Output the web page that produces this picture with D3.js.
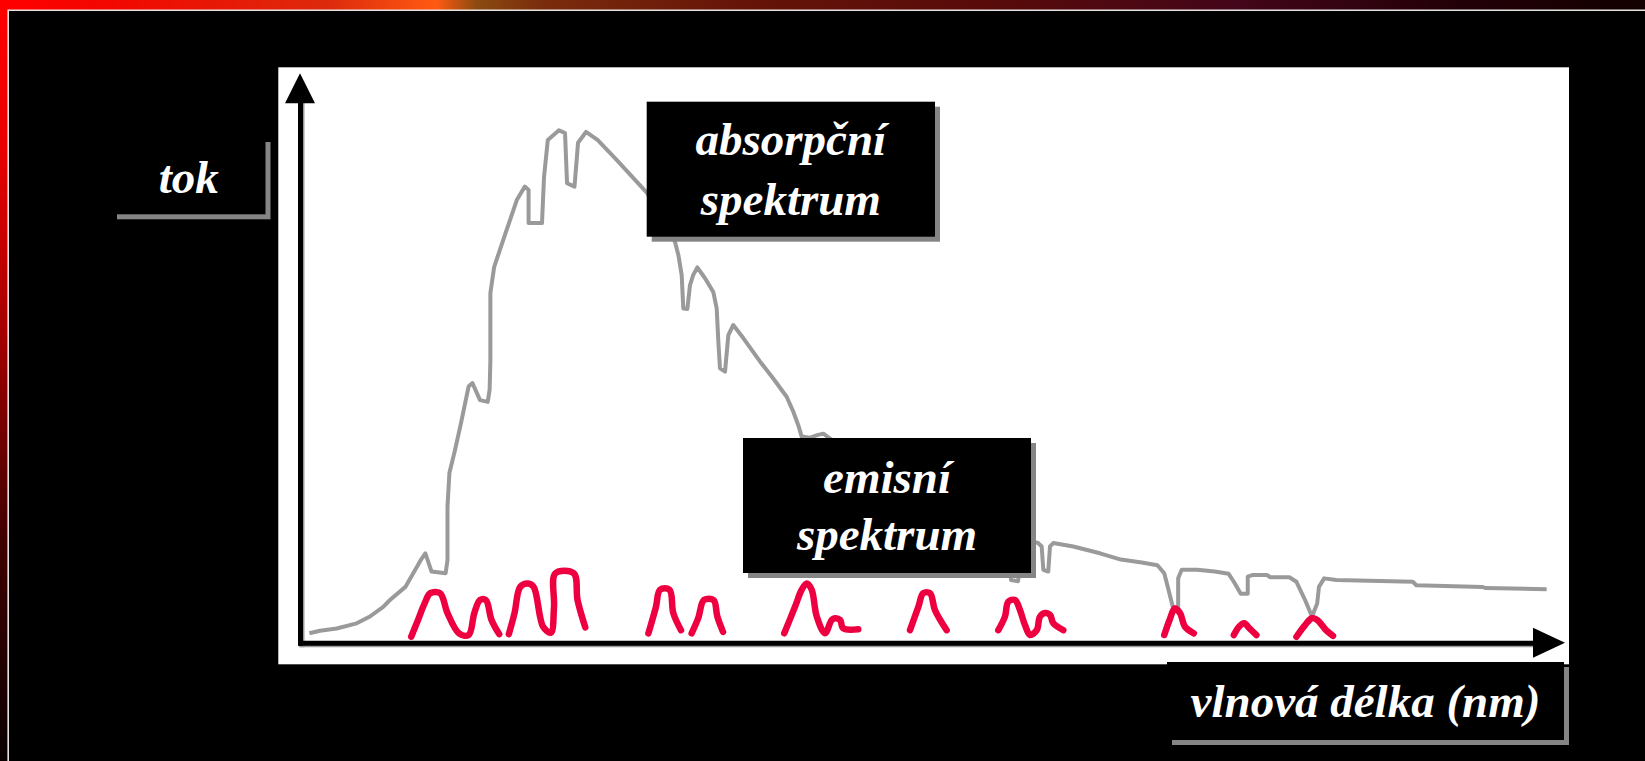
<!DOCTYPE html>
<html>
<head>
<meta charset="utf-8">
<script src="https://cdn.jsdelivr.net/npm/d3@7/dist/d3.min.js"></script>
<style>
  body { margin: 0; background: #000; overflow: hidden; }
  text { font-family: "Liberation Serif", "Times New Roman", serif; font-weight: bold; font-style: italic; fill: #fff; }
</style>
</head>
<body>
<div id="canvas"></div>
<script>
// absorption spectrum (grey line), x = position along wavelength axis (0-1000), y = flux (0-100)
const absX = [7.4, 15.8, 29, 44.8, 55.3, 65.8, 71.1, 83.3, 95.4, 99.1, 104, 115.1, 116.6, 116.6, 118.1, 122.5, 127.3, 133.3, 136.3, 142.3,
  148.4, 149.9, 150.5, 150.5, 153.5, 162.6, 171.5, 177.7, 180.7, 180.7, 191.3, 192.9, 195.9, 204.7, 209.5, 211.1, 217, 219.8, 226.1, 235.2,
  250.3, 274.3, 286.2, 296.4, 299.1, 301.7, 303, 306.2, 308.3, 310.9, 314.1, 320.2, 326.7, 329.4, 330.7, 332, 336, 338.6, 342.5, 350.4,
  363.6, 374.1, 384.7, 389.9, 393.9, 396.6, 403.2, 409.5, 413.7, 417.4, 442.7, 474.3, 513.8, 553.4, 558.1, 560.5, 562.1, 567.6, 570, 573.1,
  579.7, 583.6, 586.3, 587.6, 591.5, 592.9, 595.5, 611.3, 632.4, 648.9, 665.4, 677.8, 683.2, 686, 690.1, 694.2, 694.2, 697, 709.3, 723.1,
  734.1, 738.2, 743.7, 749.2, 749.2, 753.4, 764.3, 767, 782.1, 787.7, 794.5, 800, 804.1, 805.5, 809.6, 819.3, 879.7, 882.5, 934.6, 937.4, 985.5];
const absY = [1.65, 2.1, 2.5, 3.4, 4.6, 6.3, 7.5, 9.8, 14.5, 15.7, 12.5, 12.2, 14.5, 23.9, 29.8, 33.8, 38.6, 45, 45.6, 42.6,
  42.3, 44.4, 49.6, 61.4, 66, 72, 77.8, 80.1, 79.5, 73.7, 73.7, 81.8, 88.3, 90, 89.5, 80.7, 80.1, 87.8, 89.7, 88.3,
  84.8, 79, 74.2, 70.4, 68.1, 64.6, 58.7, 58.6, 62.8, 64.6, 65.9, 64, 61.6, 58.7, 52.9, 48.2, 47.6, 54, 55.8, 53.5,
  49.4, 46.4, 43.2, 40.6, 38.2, 36.2, 36, 36.5, 36.7, 36.1, 32.1, 26.8, 22.4, 18.9, 18, 14.5, 11, 10.8, 14.5, 17.7,
  17.7, 17.5, 16.9, 12.8, 12.5, 16.9, 17.5, 16.9, 15.7, 14.6, 14.1, 13.6, 12.2, 9.8, 6.2, 6.2, 11.3, 12.8, 12.8, 12.5,
  12.1, 10.7, 8.6, 8.6, 11.6, 11.9, 11.9, 11.5, 11.5, 10.7, 7.5, 4.6, 6.9, 9.8, 11.3, 11, 10.7, 10.1, 9.8, 9.6, 9.4];

// emission lines (red), null separates the humps
const emiX = [87.9, 93.3, 98.5, 103, 110.7, 116.6, 125.7, 133.3, 137.8, 142.3, 146.9, 151.4, 157.5, null,
  165.1, 169.6, 174.1, 180.2, 184.7, 192.2, 198.3, 200.8, 201.9, 216.4, 219.4, 225.5, null,
  275.4, 281.4, 284.6, 292.1, 295.1, 301.2, null,
  309.6, 314.8, 319.4, 326.9, 329.9, 334.4, null,
  382.8, 391.3, 396.6, 400.6, 404.5, 408.5, 415, 420.3, 422.9, 426.9, 429.5, 441.3, null,
  482.2, 488.8, 492.7, 498, 502, 511.2, null,
  552, 557.3, 559.9, 565.2, 569.2, 573.1, 577.1, 582.4, 585, 589, 592.9, 595.5, 603.4, null,
  683.2, 687.4, 691.5, 695.7, 699.6, 706.6, null,
  738.2, 742.3, 746.4, 750.6, 756.1, null,
  787.7, 794.5, 800, 804.1, 811.1, 816.6];
const emiY = [1.05, 4, 6.9, 8.7, 8.7, 5.2, 1.65, 1.35, 5.2, 7.5, 7.5, 4, 1.5, null,
  1.5, 5.2, 9.8, 10.4, 9.8, 2.8, 1.75, 6.3, 12.2, 12.2, 7.5, 2.7, null,
  1.65, 6.3, 9.3, 9.3, 5.2, 2.2, null,
  1.65, 4.3, 7.5, 7.5, 4.6, 1.9, null,
  1.65, 6.3, 9.3, 10.4, 9.3, 4.6, 1.65, 4, 4.3, 4, 2.5, 2.35, null,
  2.2, 6.3, 8.7, 8.7, 5.7, 2.2, null,
  2.2, 4.6, 7.2, 7.5, 5.7, 3.1, 1.35, 2.2, 4.6, 5.2, 4.9, 3.4, 2.2, null,
  1.35, 4, 6, 5.2, 2.8, 1.65, null,
  1.35, 2.8, 3.4, 2.5, 1.35, null,
  1.05, 3.1, 4.3, 4, 2.2, 1.2];

const labelTok = "tok";
const labelAbs = ["absorpční", "spektrum"];
const labelEmi = ["emisní", "spektrum"];
const labelX = "vlnová délka (nm)";

const width = 1645;
const height = 761;

const svg = d3.select("#canvas").append("svg")
  .attr("width", width)
  .attr("height", height);

const defs = svg.append("defs");
const topGrad = defs.append("linearGradient").attr("id", "topGrad");
[[0, "#ff0000"], [0.07, "#f20800"], [0.2, "#dc2a0c"], [0.265, "#ff5a12"], [0.29, "#8a4a10"], [0.33, "#7a2c0c"],
 [0.45, "#661408"], [0.62, "#560a0a"], [0.75, "#44061a"], [0.88, "#240008"], [1, "#120000"]]
  .forEach(s => topGrad.append("stop").attr("offset", s[0]).attr("stop-color", s[1]));
const leftGrad = defs.append("linearGradient").attr("id", "leftGrad")
  .attr("x1", 0).attr("y1", 0).attr("x2", 0).attr("y2", 1);
[[0, "#ff0000"], [0.2, "#e80000"], [0.45, "#a00000"], [0.7, "#420000"], [1, "#0a0000"]]
  .forEach(s => leftGrad.append("stop").attr("offset", s[0]).attr("stop-color", s[1]));

// slide frame
svg.append("rect").attr("x", 0).attr("y", 0).attr("width", width).attr("height", 10).attr("fill", "url(#topGrad)");
svg.append("rect").attr("x", 0).attr("y", 0).attr("width", 8).attr("height", height).attr("fill", "url(#leftGrad)");
svg.append("rect").attr("x", 0).attr("y", 0).attr("width", 8).attr("height", 10).attr("fill", "#ff0000");
svg.append("path").attr("d", `M8.2,${height} L8.2,10.2 L${width},10.2`)
  .attr("fill", "none").attr("stroke", "#e4e4e4").attr("stroke-width", 1.6);

// white plot panel
svg.append("rect").attr("x", 278.3).attr("y", 67.3).attr("width", 1290.7).attr("height", 597).attr("fill", "#fff");

const x = d3.scaleLinear().domain([0, 1000]).range([300, 1565]);
const y = d3.scaleLinear().domain([0, 100]).range([642.7, 73.3]);

const absData = absX.map((d, i) => [d, absY[i]]);
const emiData = emiX.map((d, i) => [d, emiY[i]]);

const line = d3.line()
  .defined(d => d[0] !== null && d[1] !== null)
  .x(d => x(d[0]))
  .y(d => y(d[1]));

svg.append("path")
  .datum(absData)
  .attr("d", line)
  .attr("fill", "none")
  .attr("stroke", "#9a9a9a")
  .attr("stroke-width", 4)
  .attr("stroke-linejoin", "round");

svg.append("path")
  .datum(emiData)
  .attr("d", line.curve(d3.curveCatmullRom.alpha(0.5)))
  .attr("fill", "none")
  .attr("stroke", "#ee0040")
  .attr("stroke-width", 6.5)
  .attr("stroke-linejoin", "round")
  .attr("stroke-linecap", "round");

// axes without ticks, with arrow heads
const xAxis = d3.axisBottom(x.copy().domain([0, 970]).range([300, 1535])).tickValues([]).tickSizeOuter(0);
const yAxis = d3.axisLeft(y.copy().domain([0, 95]).range([642.7, 100])).tickValues([]).tickSizeOuter(0);

[["#999", 1.5], ["#000", 0]].forEach(([col, off]) => {
  const gx = svg.append("g").attr("transform", `translate(${off},${y(0) + off})`).call(xAxis);
  const gy = svg.append("g").attr("transform", `translate(${x(0) + off},${off})`).call(yAxis);
  [gx, gy].forEach(g => g.select(".domain").attr("stroke", col).attr("stroke-width", 5).attr("stroke-linecap", "square"));
});

svg.append("path")
  .attr("d", `M${x(1000)},${y(0)} L${x(1000) - 32},${y(0) - 15} L${x(1000) - 32},${y(0) + 15} Z`)
  .attr("fill", "#000");
svg.append("path")
  .attr("d", `M${x(0)},${y(100)} L${x(0) - 15},${y(100) + 30} L${x(0) + 15},${y(100) + 30} Z`)
  .attr("fill", "#000");

// labels in black boxes with grey drop shadow
function label(bx, by, bw, bh, lines, baselines) {
  const g = svg.append("g");
  g.append("rect").attr("x", bx + 5).attr("y", by + 5).attr("width", bw).attr("height", bh).attr("fill", "#858585");
  g.append("rect").attr("x", bx).attr("y", by).attr("width", bw).attr("height", bh).attr("fill", "#000");
  lines.forEach((t, i) => {
    g.append("text")
      .attr("x", bx + bw / 2)
      .attr("y", by + baselines[i])
      .attr("text-anchor", "middle")
      .attr("font-size", 47)
      .text(t);
  });
}

label(112, 137, 153.5, 77.3, [labelTok], [56.3]);
label(646.7, 101.7, 288.3, 135, labelAbs, [53.5, 113.5]);
label(743, 438, 288, 135, labelEmi, [54.5, 112]);
label(1167, 662, 397, 78, [labelX], [55]);
</script>
</body>
</html>
